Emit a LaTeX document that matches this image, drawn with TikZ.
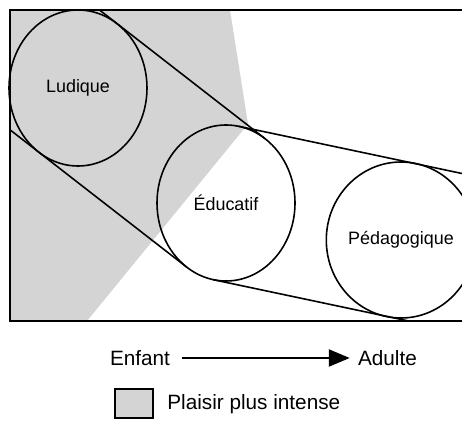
\documentclass[tikz,border=0pt]{standalone}
\usepackage{fontspec}
\setmainfont{Liberation Sans}
\usetikzlibrary{shapes.geometric,arrows.meta}
\begin{document}
\begin{tikzpicture}[
  stage/.style={ellipse, draw, line width=0.9pt, inner sep=0pt,
    minimum width=2.76cm, minimum height=3.12cm,
    font=\fontsize{10.2}{12}\selectfont},
  band/.style={draw=black!100, line width=0.9pt},
  legend/.style={inner sep=0pt, font=\fontsize{11.8}{14}\selectfont}]
\useasboundingbox (0,0) rectangle (9.240, 8.400);
\clip (0,0) rectangle (9.240, 8.400);
\coordinate (tl) at (0.200, 8.200);
\coordinate (bl) at (0.200, 1.980);
\coordinate (tr) at (9.600, 8.200);
\coordinate (br) at (9.600, 1.980);
% zone du plaisir
\fill[black!17](tl) -- (4.600, 8.200) -- (4.960, 5.920) -- (1.740, 1.980) -- (bl) -- cycle;
\path[draw=black!100, line width=1.1pt](tr) -- (tl) -- (bl) -- (br);
\node[stage] (ludique) at (1.560, 6.640) {Ludique};
\node[stage] (educatif) at (4.520, 4.340) {Éducatif};
\node[stage] (pedago) at (8.020, 3.600) {Pédagogique};
% tangentes
\coordinate (le1) at (1.990, 8.200);
\coordinate (le2) at (5.302, 5.626);
\coordinate (le3) at (0.200, 5.804);
\coordinate (le4) at (3.738, 3.054);
\coordinate (ep1) at (4.774, 5.874);
\coordinate (ep2) at (9.600, 4.854);
\coordinate (ep3) at (4.266, 2.806);
\coordinate (ep4) at (8.172, 1.980);
\path[band](le1) -- (le2);
\path[band](le3) -- (le4);
\path[band](ep1) -- (ep2);
\path[band](ep3) -- (ep4);
% legende
\node[legend] (enfant) at (2.800, 1.240) {Enfant};
\node[legend] (adulte) at (7.750, 1.240) {Adulte};
\draw[line width=1.3pt, -{Triangle[length=0.42cm, width=0.34cm]}, shorten <=0.24cm, shorten >=0.16cm] (enfant) -- (adulte);
\node[draw, fill=black!17, line width=0.8pt, minimum width=0.76cm, minimum height=0.58cm] (plaisir) at (2.680, 0.330) {};
\node[legend, anchor=west] (plaisirtxt) at (3.340, 0.320) {Plaisir plus intense};
\end{tikzpicture}
\end{document}
